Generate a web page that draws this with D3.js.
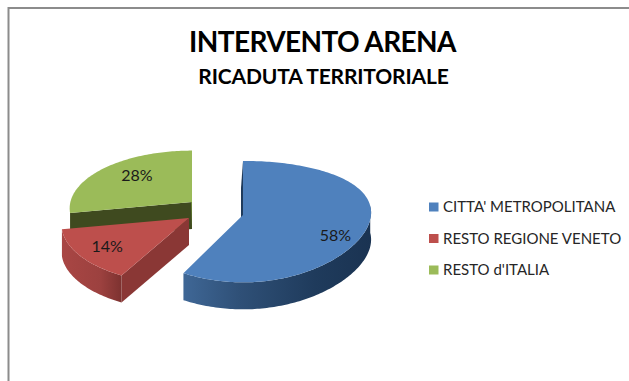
<!doctype html>
<html>
<head>
    <meta charset="utf-8">
    <title>Intervento Arena</title>
    <style>
        body { margin: 0; background: #fff; }
        text { font-family: Lato, "Open Sans", sans-serif; }
    </style>
</head>
<body>
    <div id="my_dataviz"></div>

    <script src="https://d3js.org/d3.v7.min.js"></script>
    <script>
        // chart values
        var categories = ["CITTA' METROPOLITANA", "RESTO REGIONE VENETO", "RESTO d'ITALIA"];
        var shares = [58, 14, 28];
        var colors = ["#4f81bd", "#bd4f4c", "#9bbb59"];

        var width = 629, height = 381;

        // exploded slices: apex position and size of each one on the page
        var slices = [
            {cx: 243, cy: 215, scale: 1, xp: -0.04},
            {cx: 189, cy: 218, scale: 0.99, xp: 0.109},
            {cx: 192, cy: 202, scale: 0.95, xp: 0.109}
        ];
        var labelNudge = [[4, 9], [-3, 2], [8, -2]];

        var rx = 128, ry = 60, persp = 0.109, depth = 27;

        var svg = d3.select("#my_dataviz")
            .append("svg")
            .attr("width", width)
            .attr("height", height);

        var color = d3.scaleOrdinal(categories, colors);

        // chart frame, only top and left show in the crop
        svg.append("path")
            .attr("d", "M8.5," + height + "V8H" + width)
            .attr("fill", "none")
            .attr("stroke", "#8c8c8c")
            .attr("stroke-width", 2);

        svg.append("text")
            .attr("x", 322.5).attr("y", 52)
            .attr("text-anchor", "middle")
            .attr("font-size", 28).attr("font-weight", 700)
            .attr("letter-spacing", -0.6)
            .text("INTERVENTO ARENA");

        svg.append("text")
            .attr("x", 323.5).attr("y", 84)
            .attr("text-anchor", "middle")
            .attr("font-size", 21).attr("font-weight", 700)
            .attr("letter-spacing", -0.15)
            .text("RICADUTA TERRITORIALE");

        // gradients for the curved walls
        var defs = svg.append("defs");
        function wallGradient(id, stops) {
            var g = defs.append("linearGradient").attr("id", id);
            stops.forEach(function (s) {
                g.append("stop").attr("offset", s[0]).attr("stop-color", s[1]);
            });
        }
        wallGradient("wallBlue", [[0, "#3f6796"], [0.3, "#2f5077"], [0.7, "#1f3b5c"], [1, "#1a3352"]]);
        wallGradient("wallRed", [[0, "#a94644"], [0.65, "#9c413f"], [1, "#7d3230"]]);

        // flat circle seen at an angle, near side drawn a bit larger
        function project(s, a) {
            var u = Math.sin(a), v = -Math.cos(a);
            var py = s.scale / (1 - persp * v);
            var px = s.scale / (1 - s.xp * v);
            return [s.cx + rx * u * px, s.cy + ry * v * py];
        }

        function arcPoints(s, a0, a1) {
            var n = Math.max(2, Math.ceil(Math.abs(a1 - a0) / 0.02));
            return d3.range(n + 1).map(function (i) {
                return project(s, a0 + (a1 - a0) * i / n);
            });
        }

        var line = d3.line();

        var arcs = d3.pie().sort(null)(shares);

        function topFace(i) {
            var s = slices[i];
            return [[s.cx, s.cy]].concat(arcPoints(s, arcs[i].startAngle, arcs[i].endAngle));
        }

        function wall(i, a0, a1, dx) {
            var s = slices[i];
            var front = arcPoints(s, a0, a1);
            var back = front.slice().reverse().map(function (p) {
                return [p[0] + (dx || 0), p[1] + depth];
            });
            return front.concat(back);
        }

        function radial(i, a, dx) {
            var s = slices[i];
            var p = project(s, a);
            dx = dx || 0;
            return [[s.cx, s.cy], p, [p[0] + dx, p[1] + depth], [s.cx + dx, s.cy + depth]];
        }

        function draw(points, fill) {
            svg.append("path")
                .attr("d", line(points) + "Z")
                .attr("fill", fill);
        }

        // back to front: green, red, blue
        draw(radial(2, arcs[2].startAngle), "#3f4a1f");
        draw(radial(2, arcs[2].endAngle, -1), "#6f8a3c");
        draw(topFace(2), color(categories[2]));

        draw(radial(1, arcs[1].startAngle), "#8a3735");
        draw(wall(1, arcs[1].startAngle, arcs[1].endAngle), "url(#wallRed)");
        draw(topFace(1), color(categories[1]));

        draw(radial(0, 0, -2), "#1f3b5c");
        draw(wall(0, Math.PI * 0.45, arcs[0].endAngle), "url(#wallBlue)");
        draw(topFace(0), color(categories[0]));

        // percentage labels
        arcs.forEach(function (d, i) {
            var mid = (d.startAngle + d.endAngle) / 2;
            var s = slices[i];
            var edge = project(s, mid);
            svg.append("text")
                .attr("x", s.cx + (edge[0] - s.cx) * 0.72 + labelNudge[i][0])
                .attr("y", s.cy + (edge[1] - s.cy) * 0.72 + labelNudge[i][1])
                .attr("dy", "0.35em")
                .attr("text-anchor", "middle")
                .attr("font-size", 16)
                .attr("fill", "#1a1a1a")
                .text(d.data + "%");
        });

        // legend
        var legendY = d3.scalePoint(categories, [207, 270]);

        var legend = svg.append("g").selectAll("g")
            .data(categories)
            .enter()
            .append("g")
            .attr("transform", function (d) { return "translate(429," + legendY(d) + ")"; });

        legend.append("rect")
            .attr("x", 0).attr("y", -4.5)
            .attr("width", 9.5).attr("height", 9)
            .attr("fill", function (d) { return color(d); });

        legend.append("text")
            .attr("x", 14)
            .attr("dy", "0.36em")
            .attr("font-size", 15)
            .attr("fill", "#262626")
            .text(function (d) { return d; });
    </script>
</body>
</html>
